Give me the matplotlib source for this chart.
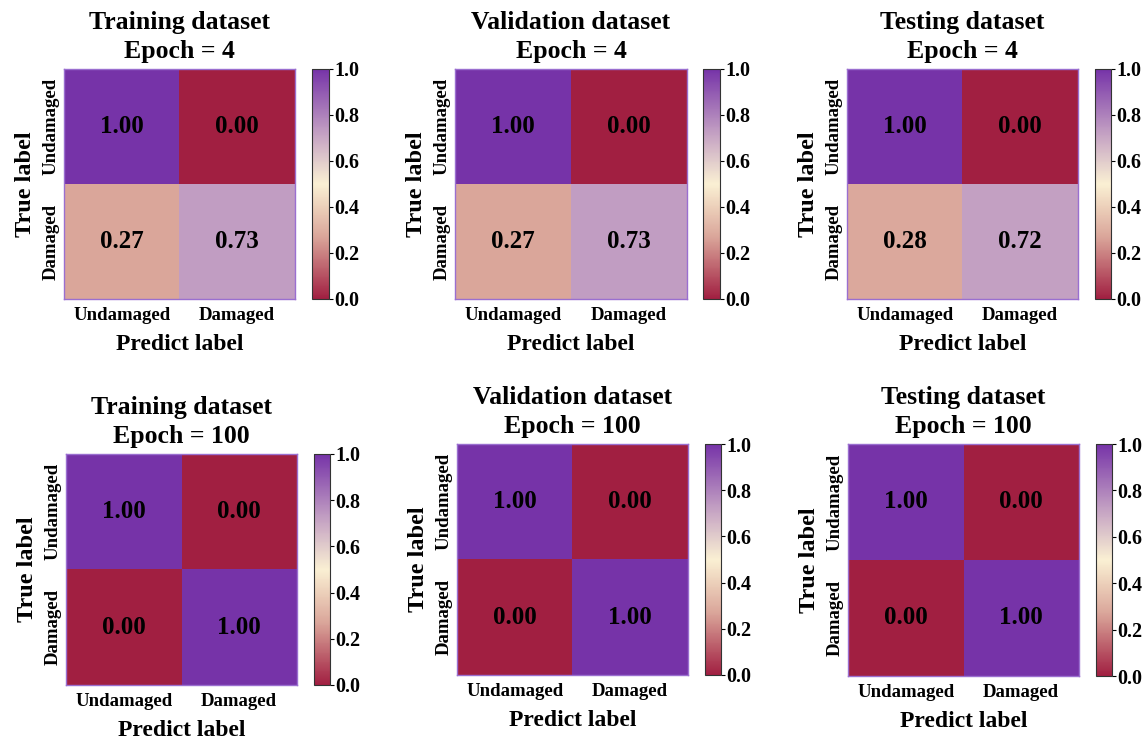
import matplotlib.pyplot as plt
import numpy as np
from matplotlib.colors import LinearSegmentedColormap

plt.rcParams['font.family'] = ['Liberation Serif', 'DejaVu Serif']
plt.rcParams['font.weight'] = 'bold'

# confusion matrices (row-normalised), one per dataset / epoch
classes = ['Undamaged', 'Damaged']
titles = ['Training dataset', 'Validation dataset', 'Testing dataset']
epochs = [4, 100]

cm_train_4 = [[1.00, 0.00], [0.27, 0.73]]
cm_val_4 = [[1.00, 0.00], [0.27, 0.73]]
cm_test_4 = [[1.00, 0.00], [0.28, 0.72]]
cm_train_100 = [[1.00, 0.00], [0.00, 1.00]]
cm_val_100 = [[1.00, 0.00], [0.00, 1.00]]
cm_test_100 = [[1.00, 0.00], [0.00, 1.00]]

matrices = [[cm_train_4, cm_val_4, cm_test_4],
            [cm_train_100, cm_val_100, cm_test_100]]

# red -> cream -> purple
cmap = LinearSegmentedColormap.from_list('rcp', [
    (0.0, '#A11F41'),
    (0.27, '#DAA69A'),
    (0.5, '#FAF0D3'),
    (0.73, '#C19DC2'),
    (1.0, '#7633A8'),
])

W, H = 1148, 744
fig = plt.figure(figsize=(W / 100, H / 100), dpi=100)

# pixel boxes: heatmap (x0, x1, y0, y1), colorbar (x0, x1)
boxes = [
    [((64, 295, 69, 299), (312, 329)),
     ((455, 687, 69, 299), (703, 720)),
     ((847, 1078, 69, 299), (1095, 1111))],
    [((66, 297, 454, 685), (314, 330)),
     ((457, 688, 444, 675), (705, 721)),
     ((848, 1079, 444, 676), (1096, 1112))],
]


def frac(x0, x1, y0, y1):
    return [x0 / W, 1 - y1 / H, (x1 - x0) / W, (y1 - y0) / H]


for r in range(2):
    for c in range(3):
        (hx0, hx1, hy0, hy1), (cx0, cx1) = boxes[r][c]
        data = np.array(matrices[r][c])
        ax = fig.add_axes(frac(hx0, hx1, hy0, hy1))
        im = ax.imshow(data, cmap=cmap, vmin=0, vmax=1, aspect='auto')
        for i in range(2):
            for j in range(2):
                ax.text(j, i, f'{data[i, j]:.2f}', ha='center', va='center',
                        fontsize=18, fontweight='bold', color='black')
        ax.set_xticks([0, 1])
        ax.set_xticklabels(classes, fontsize=13.5, fontweight='bold')
        ax.set_yticks([0, 1])
        ax.set_yticklabels(classes, fontsize=13.5, fontweight='bold',
                           rotation=90, va='center')
        ax.tick_params(axis='x', length=0, pad=6)
        ax.tick_params(axis='y', length=0, pad=3)
        for s in ax.spines.values():
            s.set_color('#9A6FD0')
            s.set_linewidth(1.0)
        ax.set_xlabel('Predict label', fontsize=17, fontweight='bold', labelpad=7)
        ax.set_ylabel('True label', fontsize=17.5, fontweight='bold', labelpad=5)
        ax.set_title(f'{titles[c]}\nEpoch = {epochs[r]}', fontsize=18.5,
                     fontweight='bold', pad=8, linespacing=1.3)

        cax = fig.add_axes(frac(cx0, cx1, hy0, hy1))
        cb = fig.colorbar(im, cax=cax, ticks=np.arange(0, 1.01, 0.2))
        cb.ax.set_yticklabels([f'{t:.1f}' for t in np.arange(0, 1.01, 0.2)],
                              fontsize=14.5, fontweight='bold')
        cb.ax.tick_params(length=3, width=0.8, pad=1)
        cb.outline.set_linewidth(0.8)
        cb.outline.set_edgecolor('#333333')

fig.savefig('out.png', dpi=100)
